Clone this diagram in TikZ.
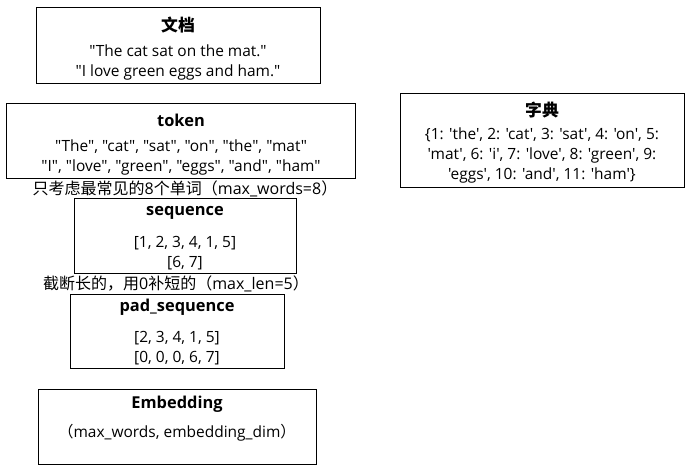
\documentclass[tikz,border=0pt]{standalone}
\usepackage{fontspec}
\newfontfamily\lat{Open Sans}
\newfontfamily\cjk{Noto Sans CJK SC}
\begin{document}
\begin{tikzpicture}[x=0.75pt,y=-0.75pt,
  box/.style={draw=black,line width=0.9pt,inner sep=0pt,anchor=north west},
  ttl/.style={font=\fontsize{12.3}{14}\selectfont\lat\bfseries,inner sep=0pt},
  cttl/.style={font=\fontsize{12.6}{14}\selectfont\cjk\bfseries,inner sep=0pt},
  body/.style={font=\fontsize{11.6}{15}\selectfont\lat,inner sep=0pt,align=center},
  lbl/.style={font=\fontsize{12}{15}\selectfont\cjk,inner sep=0pt}]
\useasboundingbox (0,0) rectangle (690,471);
% boxes
\node[box,minimum width=213pt,minimum height=57pt] (doc) at (36,7) {};
\node[box,minimum width=261.75pt,minimum height=56.25pt] (tok) at (6,103) {};
\node[box,minimum width=213pt,minimum height=70.5pt] (dict) at (400,93) {};
\node[box,minimum width=166.5pt,minimum height=56.25pt] (seq) at (74,198) {};
\node[box,minimum width=160.5pt,minimum height=55.5pt] (pad) at (70,294) {};
\node[box,minimum width=208.5pt,minimum height=56.25pt] (emb) at (38,389) {};
% texts
\node[cttl] (doct) at (178,25) {文档};
\node[body] (docb) at (178,62) {"The cat sat on the mat."\\"I love green eggs and ham."};
\node[ttl] (tokt) at (181,120) {token};
\node[body] (tokb) at (181,157.5) {"The", "cat", "sat", "on", "the", "mat"\\"I", "love", "green", "eggs", "and", "ham"};
\node[cttl] (dictt) at (542,110) {字典};
\node[body] (dictb) at (542,155) {\{1: 'the', 2: 'cat', 3: 'sat', 4: 'on', 5:\\'mat', 6: 'i', 7: 'love', 8: 'green', 9:\\'eggs', 10: 'and', 11: 'ham'\}};
\node[lbl] (l1) at (185,189) {只考虑最常见的{\lat 8}个单词（{\lat max\_words=8}）};
\node[ttl] (seqt) at (185,213) {sequence};
\node[body] (seqb) at (185,253.5) {[1, 2, 3, 4, 1, 5]\\{}[6, 7]};
\node[lbl] (l2) at (176,284) {截断长的，用{\lat 0}补短的（{\lat max\_len=5}）};
\node[ttl] (padt) at (177,307) {pad\_sequence};
\node[body] (padb) at (177,348.5) {[2, 3, 4, 1, 5]\\{}[0, 0, 0, 6, 7]};
\node[ttl] (embt) at (177,404) {Embedding};
\node[body] (embb) at (177,433) {{\cjk （}max\_words, embedding\_dim{\cjk ）}};
\end{tikzpicture}
\end{document}
